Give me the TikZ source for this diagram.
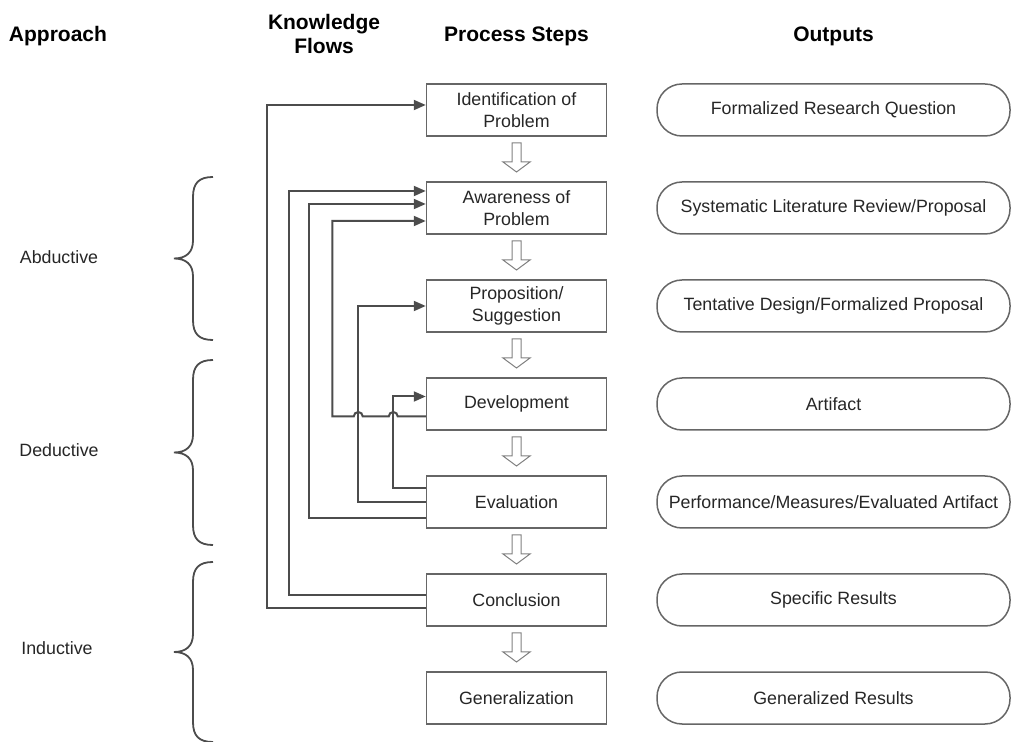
\documentclass[tikz,border=0pt]{standalone}
\usepackage{fontspec}
\setmainfont{Liberation Sans}
\usetikzlibrary{calc,arrows.meta}

\tikzset{
    stepbox/.style={draw=black!60, line width=.75pt, minimum width=90pt, minimum height=26pt,
        align=center, text=black!85, font=\fontsize{8.9}{10.85}\selectfont},
    outbox/.style={stepbox, rounded corners=12.5pt, minimum width=176.5pt},
    header/.style={align=center, font=\fontsize{10.5}{12}\selectfont\bfseries},
    approach/.style={text=black!85, font=\fontsize{8.9}{10.85}\selectfont},
    flow/.style={draw=black!70, line width=1pt},
    flowin/.style={flow, -{Triangle[length=6pt,width=5pt]}},
    hollow/.style={draw=black!50, fill=white, line width=.5pt},
    curly/.style={draw=black!70, line width=.9pt}
}

\begin{document}
\begin{tikzpicture}[x=0.5pt, y=-0.5pt]
    \useasboundingbox (0,0) rectangle (1012,742);
    % Headers
    \node[header] (hApproach) at (58,36) {Approach};
    \node[header] (hFlows) at (324,34) {Knowledge\\Flows};
    \node[header] (hSteps) at (516.5,36) {Process Steps};
    \node[header] (hOutputs) at (833.5,36) {Outputs};
    % Process steps
    \node[stepbox] (Ident) at (516.5,110) {Identification of\\Problem};
    \node[stepbox] (Aware) at (516.5,208) {Awareness of\\Problem};
    \node[stepbox] (Prop) at (516.5,306) {Proposition/\\Suggestion};
    \node[stepbox] (Dev) at (516.5,404) {Development};
    \node[stepbox] (Eval) at (516.5,502) {Evaluation};
    \node[stepbox] (Conc) at (516.5,600) {Conclusion};
    \node[stepbox] (Gen) at (516.5,698) {Generalization};
    % Outputs
    \node[outbox] (oIdent) at (833.5,110) {Formalized Research Question};
    \node[outbox] (oAware) at (833.5,208) {Systematic Literature Review/Proposal};
    \node[outbox] (oProp) at (833.5,306) {Tentative Design/Formalized Proposal};
    \node[outbox] (oDev) at (833.5,404) {Artifact};
    \node[outbox] (oEval) at (833.5,502) {Performance/Measures/Evaluated Artifact};
    \node[outbox] (oConc) at (833.5,600) {Specific Results};
    \node[outbox] (oGen) at (833.5,698) {Generalized Results};
    % Step arrows
    \foreach \a/\b in {Ident/Aware,Aware/Prop,Prop/Dev,Dev/Eval,Eval/Conc,Conc/Gen} {
        \draw[hollow] ($(\a.south)!.5!(\b.north)$) ++(-4.5,-16) -- ++(9,0) -- ++(0,19)
            -- ++(9,0) -- ++(-13.5,10) -- ++(-13.5,-10) -- ++(9,0) -- cycle;
    }
    % Approaches
    \node[approach] (Abd) at (59,257) {Abductive};
    \node[approach] (Ded) at (59,450) {Deductive};
    \node[approach] (Ind) at (57,648) {Inductive};
    \foreach \t/\b in {177/340,360/545,562/742} {
        \pgfmathsetmacro{\m}{(\t+\b)/2}
        \draw[curly] (213,\t) .. controls (199,\t) and (193,\t+6) .. (193,\t+20)
            -- (193,\m-18) .. controls (193,\m-6) and (186,\m) .. (174,\m)
            .. controls (186,\m) and (193,\m+6) .. (193,\m+18)
            -- (193,\b-20) .. controls (193,\b-6) and (199,\b) .. (213,\b);
    }
    % Knowledge flows
    \draw[flowin] ($(Conc.west)+(0,8.5)$) -- ++(-158.5,0) |- ($(Ident.west)+(0,-5)$);
    \draw[flowin] ($(Conc.west)+(0,-4.5)$) -- ++(-136.5,0) |- ($(Aware.west)+(0,-17)$);
    \draw[flowin] ($(Eval.west)+(0,16.5)$) -- ++(-116.5,0) |- ($(Aware.west)+(0,-4)$);
    \draw[flowin] ($(Dev.west)+(0,12.5)$) -- ++(-28,0)
        arc[start angle=0, end angle=180, radius=2.25pt] -- ++(-26,0)
        arc[start angle=0, end angle=180, radius=2.25pt] -- ++(-21.5,0)
        |- ($(Aware.west)+(0,13)$);
    \draw[flowin] (Eval.west) -- ++(-67.5,0) |- (Prop.west);
    \draw[flowin] ($(Eval.west)+(0,-13.5)$) -- ++(-32.5,0) |- ($(Dev.west)+(0,-7.5)$);
\end{tikzpicture}
\end{document}
